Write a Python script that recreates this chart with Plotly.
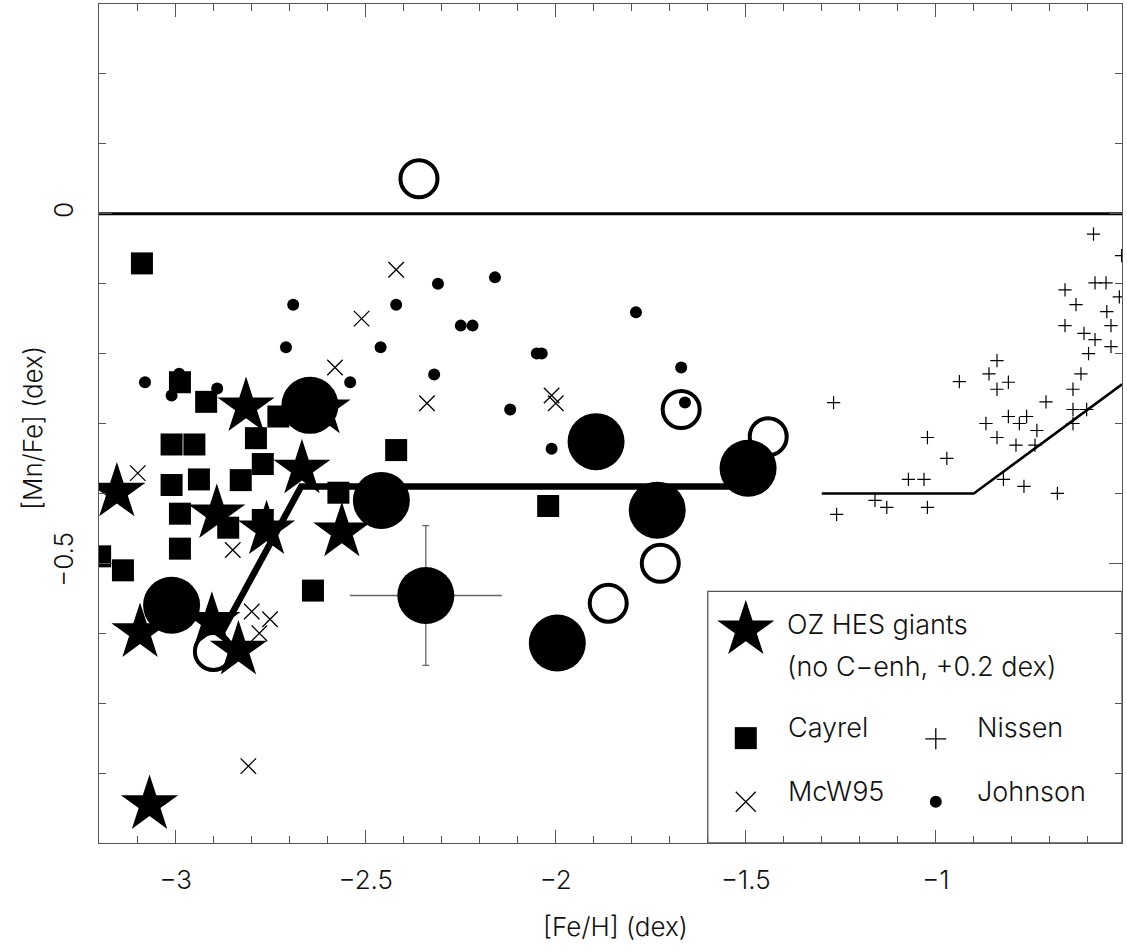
import plotly.graph_objects as go

# ---------------- data ----------------
X_RANGE = [-3.202, -0.510]
Y_RANGE = [-0.9, 0.3]

# OZ HES giants (stars)
star_feh = [-2.815, -2.615, -3.155, -2.668, -2.892, -2.761, -2.563, -3.094, -2.905, -2.835, -3.069]
star_mn  = [-0.276, -0.279, -0.398, -0.365, -0.429, -0.452, -0.455, -0.599, -0.583, -0.624, -0.845]

# Cayrel (filled squares)
cay_feh = [-3.089, -2.989, -2.920, -2.730, -3.011, -2.951, -2.789, -2.420, -2.771, -3.011, -2.939,
           -2.829, -2.572, -2.989, -2.862, -2.771, -2.989, -3.199, -3.139, -2.639, -2.020]
cay_mn  = [-0.071, -0.241, -0.269, -0.290, -0.330, -0.330, -0.321, -0.338, -0.358, -0.388, -0.380,
           -0.381, -0.399, -0.429, -0.449, -0.438, -0.479, -0.490, -0.510, -0.539, -0.418]

# McWilliam et al. 1995 (x)
mcw_feh = [-2.511, -2.581, -3.100, -2.420, -2.339, -2.011, -2.000, -2.850, -2.800, -2.752, -2.780, -2.809]
mcw_mn  = [-0.150, -0.220, -0.371, -0.080, -0.271, -0.260, -0.271, -0.481, -0.569, -0.580, -0.600, -0.790]

# Johnson (small dots)
joh_feh = [-2.691, -2.710, -2.461, -3.081, -2.991, -3.011, -2.891, -2.541, -2.310, -2.160, -2.420,
           -2.250, -2.219, -1.789, -2.050, -2.037, -2.320, -2.120, -1.670, -1.660, -2.011]
joh_mn  = [-0.130, -0.191, -0.191, -0.241, -0.229, -0.260, -0.250, -0.241, -0.100, -0.091, -0.130,
           -0.160, -0.160, -0.141, -0.200, -0.200, -0.230, -0.280, -0.220, -0.270, -0.336]

# Nissen (plus)
nis_feh = [-0.585, -0.511, -0.581, -0.552, -0.517, -0.660, -0.631, -0.550, -0.660, -0.610, -0.539,
           -0.581, -0.539, -0.598, -0.839, -0.860, -0.938, -0.809, -0.839, -0.618, -0.639, -1.269,
           -0.710, -0.639, -0.603, -0.809, -0.761, -0.868, -0.780, -0.639, -0.734, -1.022, -0.839,
           -0.789, -0.739, -0.971, -1.072, -1.031, -0.822, -0.768, -0.680, -1.160, -1.129, -1.022,
           -1.261]
nis_mn  = [-0.029, -0.060, -0.099, -0.099, -0.119, -0.109, -0.130, -0.140, -0.160, -0.171, -0.160,
           -0.180, -0.190, -0.200, -0.210, -0.229, -0.240, -0.241, -0.251, -0.229, -0.251, -0.270,
           -0.269, -0.280, -0.280, -0.290, -0.290, -0.300, -0.300, -0.300, -0.310, -0.320, -0.320,
           -0.331, -0.331, -0.350, -0.380, -0.380, -0.380, -0.390, -0.400, -0.410, -0.420, -0.420,
           -0.430]

# large filled circles
big_feh = [-2.647, -2.459, -3.011, -1.894, -1.494, -1.733, -1.996]
big_mn  = [-0.274, -0.410, -0.560, -0.326, -0.364, -0.424, -0.614]

# large filled circle with error bars
err_feh = [-2.342]
err_mn  = [-0.546]
err_dx  = [0.20]
err_dy  = [0.10]

# open circles
open_feh = [-2.360, -1.670, -1.441, -1.725, -1.862, -2.901]
open_mn  = [0.050, -0.280, -0.319, -0.500, -0.557, -0.626]

# thick trend line
trend_feh = [-2.88, -2.67, -1.50]
trend_mn  = [-0.60, -0.39, -0.39]

# Nissen trend line
ntrend_feh = [-1.30, -0.90, -0.51]
ntrend_mn  = [-0.40, -0.40, -0.244]

# solar line
sun_feh = [X_RANGE[0], X_RANGE[1]]
sun_mn  = [0.0, 0.0]

# legend box (data coords) and entries
leg_box = dict(x0=-1.60, x1=X_RANGE[1], y0=Y_RANGE[0], y1=-0.54)
leg_star = ([-1.50], [-0.595])
leg_sq   = ([-1.50], [-0.750])
leg_plus = ([-1.00], [-0.751])
leg_x    = ([-1.50], [-0.841])
leg_dot  = ([-1.00], [-0.841])
leg_texts = [
    (-1.396, -0.588, "OZ HES giants"),
    (-1.396, -0.648, "(no C\u2212enh, +0.2 dex)"),
    (-1.394, -0.735, "Cayrel"),
    (-0.897, -0.735, "Nissen"),
    (-1.394, -0.826, "McW95"),
    (-0.897, -0.826, "Johnson"),
]

FONT = "Inter, DejaVu Sans, sans-serif"
FW = 300
AX = "#555555"
TXT = "#111111"

fig = go.Figure()

def add(x, y, **kw):
    fig.add_trace(go.Scatter(x=x, y=y, showlegend=False, hoverinfo="skip", cliponaxis=True, **kw))

add(sun_feh, sun_mn, mode="lines", line=dict(color="black", width=3))
add(ntrend_feh, ntrend_mn, mode="lines", line=dict(color="black", width=2.5))
add(nis_feh, nis_mn, mode="markers",
    marker=dict(symbol="cross-thin", size=9.5, color="black", line=dict(color="black", width=1.2)))
add(cay_feh, cay_mn, mode="markers", marker=dict(symbol="square", size=22, color="black"))
add(mcw_feh, mcw_mn, mode="markers",
    marker=dict(symbol="x-thin", size=15.5, color="black", line=dict(color="black", width=1.3)))
add(joh_feh, joh_mn, mode="markers", marker=dict(symbol="circle", size=12, color="black"))
add(open_feh, open_mn, mode="markers",
    marker=dict(symbol="circle-open", size=37, color="black", line=dict(color="black", width=4)))
add(trend_feh, trend_mn, mode="lines", line=dict(color="black", width=6.5))
add(star_feh, star_mn, mode="markers", marker=dict(symbol="star", size=43, color="black"))
add(big_feh, big_mn, mode="markers", marker=dict(symbol="circle", size=57, color="black"))
add(err_feh, err_mn, mode="markers", marker=dict(symbol="circle", size=57, color="black"),
    error_x=dict(type="data", array=err_dx, color="#666666", thickness=1.3, width=0),
    error_y=dict(type="data", array=err_dy, color="#666666", thickness=1.3, width=3.5))

# legend markers
add(*leg_star, mode="markers", marker=dict(symbol="star", size=43, color="black"))
add(*leg_sq, mode="markers", marker=dict(symbol="square", size=22, color="black"))
add(*leg_plus, mode="markers",
    marker=dict(symbol="cross-thin", size=15, color="black", line=dict(color="black", width=1.3)))
add(*leg_x, mode="markers",
    marker=dict(symbol="x-thin", size=20, color="black", line=dict(color="black", width=1.3)))
add(*leg_dot, mode="markers", marker=dict(symbol="circle", size=12, color="black"))

fig.add_shape(type="rect", xref="x", yref="y", **leg_box,
              line=dict(color=AX, width=1.3), fillcolor="rgba(0,0,0,0)", layer="above")

for tx, ty, s in leg_texts:
    fig.add_annotation(x=tx, y=ty, xref="x", yref="y", text=s, showarrow=False,
                       xanchor="left", yanchor="middle",
                       font=dict(family=FONT, size=27, color=TXT, weight=FW))

# axis titles
fig.add_annotation(x=0.5044, y=-0.100, xref="paper", yref="paper", text="[Fe/H] (dex)",
                   showarrow=False, xanchor="center", yanchor="middle",
                   font=dict(family=FONT, size=26, color=TXT, weight=FW))
fig.add_annotation(x=-0.0655, y=0.4946, xref="paper", yref="paper", text="[Mn/Fe] (dex)",
                   showarrow=False, xanchor="center", yanchor="middle", textangle=-90,
                   font=dict(family=FONT, size=26, color=TXT, weight=FW))

tickstyle = dict(showgrid=False, zeroline=False, ticks="inside", ticklen=13, tickwidth=1.3,
                 tickcolor=AX, automargin=False)
xminor = dict(tick0=-3, dtick=0.1, ticks="inside", ticklen=7, tickwidth=1.3, tickcolor=AX, showgrid=False)
yminor = dict(tick0=0, dtick=0.1, ticks="inside", ticklen=7, tickwidth=1.3, tickcolor=AX, showgrid=False)
tfont = dict(family=FONT, size=26, color=TXT, weight=FW)

fig.update_layout(
    xaxis=dict(range=X_RANGE, tick0=-3, dtick=0.5, ticklabelstandoff=14, showline=True,
               linecolor=AX, linewidth=1.3, mirror=True, minor=xminor, tickfont=tfont, **tickstyle),
    yaxis=dict(range=Y_RANGE, tick0=0, dtick=0.5, tickangle=-90, ticklabelstandoff=14, showline=True,
               linecolor=AX, linewidth=1.3, mirror=True, minor=yminor, tickfont=tfont, **tickstyle),
    xaxis2=dict(range=X_RANGE, overlaying="x", side="top", anchor="y", tick0=-3, dtick=0.5,
                showticklabels=False, showline=False, minor=xminor, **tickstyle),
    yaxis2=dict(range=Y_RANGE, overlaying="y", side="right", anchor="x", tick0=0, dtick=0.5,
                showticklabels=False, showline=False, minor=yminor, **tickstyle),
)
# invisible trace to anchor the mirror axes
fig.add_trace(go.Scatter(x=[X_RANGE[0]], y=[Y_RANGE[0]], xaxis="x2", yaxis="y2", mode="markers",
                         marker=dict(size=1, opacity=0), showlegend=False, hoverinfo="skip"))

fig.update_layout(width=1127, height=952, template="none",
                  margin=dict(l=99, r=5, t=4, b=109, pad=0),
                  paper_bgcolor="white", plot_bgcolor="white")

fig.write_html("out.html", post_script="document.body.style.margin='0';",
               config={"displayModeBar": False})
